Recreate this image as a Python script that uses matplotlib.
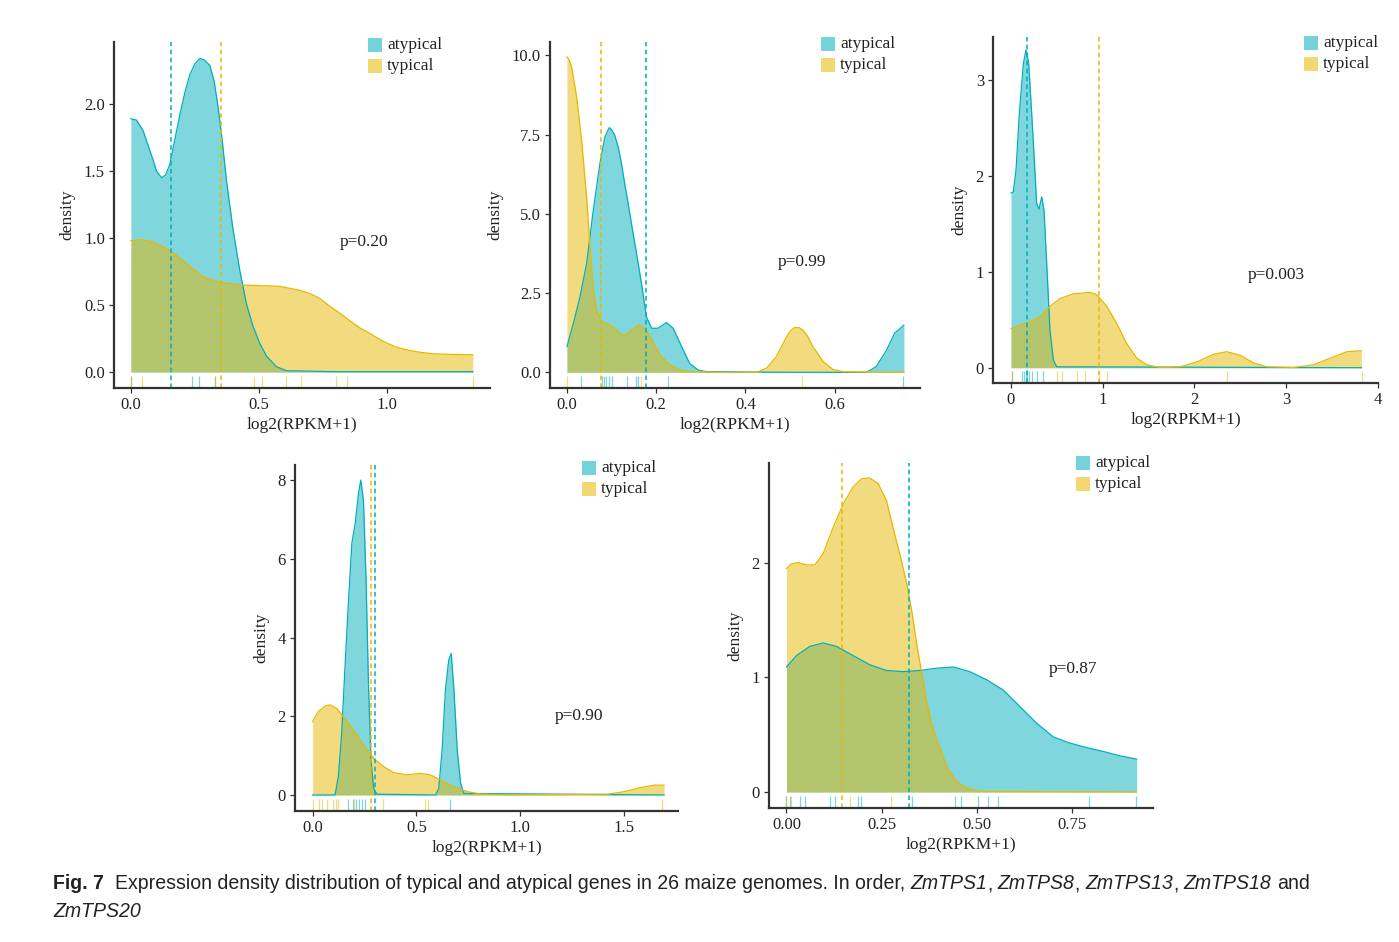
"""
Expression density of typical vs atypical genes (Fig. 7 redraw).
"""

import matplotlib
matplotlib.use("Agg")
import matplotlib.pyplot as plt
from matplotlib.patches import Rectangle

plt.rcParams['font.family'] = ['Liberation Serif', 'DejaVu Serif']

ATYP_COLOR = '#00AFBB'
TYP_COLOR = '#E7B800'
AXIS_COLOR = '#333333'

# ─────────────────────────────────────────────────────────────────────────────
# Data
# ─────────────────────────────────────────────────────────────────────────────

# ZmTPS1
tps1_atyp_x = [0.0, 0.022, 0.048, 0.087, 0.10, 0.12, 0.135, 0.152, 0.17, 0.191,
               0.21, 0.23, 0.25, 0.269, 0.285, 0.308, 0.325, 0.341, 0.357,
               0.373, 0.399, 0.425, 0.451, 0.477, 0.503, 0.529, 0.568,
               0.607, 0.79, 1.335]
tps1_atyp_y = [1.89, 1.88, 1.80, 1.58, 1.50, 1.45, 1.47, 1.55, 1.72, 1.92,
               2.08, 2.22, 2.30, 2.34, 2.33, 2.29, 2.17, 1.97, 1.72,
               1.43, 1.06, 0.76, 0.51, 0.34, 0.215, 0.12, 0.04,
               0.01, 0.003, 0.003]
tps1_typ_x = [0.0, 0.042, 0.087, 0.152, 0.217, 0.282, 0.347, 0.425, 0.50, 0.581,
              0.659, 0.70, 0.737, 0.77, 0.815, 0.85, 0.893, 0.94, 0.984, 1.03,
              1.075, 1.12, 1.179, 1.25, 1.335]
tps1_typ_y = [0.98, 0.99, 0.97, 0.91, 0.81, 0.71, 0.67, 0.65, 0.645, 0.64,
              0.61, 0.585, 0.55, 0.50, 0.44, 0.39, 0.33, 0.28, 0.23, 0.19,
              0.166, 0.15, 0.136, 0.132, 0.129]
tps1_atyp_rug = [0.0, 0.24, 0.265, 0.33]
tps1_typ_rug = [0.0, 0.045, 0.33, 0.48, 0.51, 0.605, 0.665, 0.80, 0.845, 1.336]
tps1_means = [0.156, 0.351]
tps1_p = 'p=0.20'

# ZmTPS8
tps8_atyp_x = [0.0, 0.0142, 0.0291, 0.044, 0.059, 0.0739, 0.0851, 0.0948, 0.10,
               0.107, 0.115, 0.122, 0.13, 0.137, 0.145, 0.152, 0.16, 0.167,
               0.178, 0.190, 0.204, 0.223, 0.238, 0.257, 0.275, 0.294, 0.313,
               0.499, 0.671, 0.693, 0.716, 0.734, 0.755]
tps8_atyp_y = [0.81, 1.54, 2.38, 3.43, 5.12, 6.59, 7.43, 7.72, 7.65,
               7.48, 7.1, 6.59, 5.9, 5.33, 4.65, 4.07, 3.4, 2.80,
               1.75, 1.39, 1.39, 1.57, 1.39, 0.81, 0.28, 0.07, 0.02,
               0.0, 0.0, 0.18, 0.70, 1.23, 1.49]
tps8_typ_x = [0.0, 0.005, 0.0104, 0.0216, 0.0328, 0.044, 0.0515, 0.059, 0.0664,
              0.0776, 0.0963, 0.111, 0.126, 0.141, 0.160, 0.175, 0.190, 0.208,
              0.231, 0.253, 0.275, 0.35, 0.425, 0.447, 0.469, 0.492, 0.50,
              0.510, 0.52, 0.529, 0.54, 0.551, 0.574, 0.596, 0.619, 0.755]
tps8_typ_y = [9.95, 9.85, 9.63, 8.69, 7.32, 5.54, 3.96, 2.59, 1.96,
              1.60, 1.49, 1.33, 1.14, 1.28, 1.49, 1.39, 1.02, 0.55,
              0.23, 0.07, 0.02, 0.0, 0.0, 0.13, 0.49, 1.12, 1.30,
              1.41, 1.41, 1.33, 1.12, 0.81, 0.34, 0.09, 0.02, 0.0]
tps8_atyp_rug = [0.031, 0.078, 0.083, 0.088, 0.094, 0.1, 0.134, 0.154, 0.16,
                 0.226, 0.753]
tps8_typ_rug = [0.0, 0.165, 0.526]
tps8_means = [0.176, 0.076]
tps8_p = 'p=0.99'

# ZmTPS13
tps13_atyp_x = [0.0, 0.025, 0.055, 0.091, 0.135, 0.164, 0.193, 0.236, 0.28, 0.305,
                0.335, 0.36, 0.389, 0.425, 0.462, 0.498, 3.82]
tps13_atyp_y = [1.82, 1.83, 2.06, 2.65, 3.17, 3.31, 3.17, 2.48, 1.71, 1.65,
                1.78, 1.64, 1.09, 0.39, 0.08, 0.01, 0.0]
tps13_typ_x = [0.0, 0.098, 0.207, 0.316, 0.425, 0.535, 0.68, 0.862, 0.935, 1.044,
               1.153, 1.262, 1.371, 1.48, 1.625, 1.844, 2.025, 2.207, 2.353,
               2.498, 2.644, 2.789, 3.08, 3.298, 3.48, 3.662, 3.818]
tps13_typ_y = [0.41, 0.44, 0.48, 0.53, 0.64, 0.72, 0.77, 0.785, 0.76, 0.64,
               0.46, 0.25, 0.10, 0.03, 0.003, 0.01, 0.06, 0.14, 0.167,
               0.13, 0.05, 0.01, 0.003, 0.03, 0.10, 0.167, 0.177]
tps13_atyp_rug = [0.007, 0.117, 0.14, 0.16, 0.18, 0.2, 0.226, 0.28, 0.345]
tps13_typ_rug = [0.007, 0.5, 0.553, 0.723, 0.807, 0.955, 1.05, 2.352, 3.824]
tps13_means = [0.171, 0.964]
tps13_p = 'p=0.003'

# ZmTPS18
tps18_atyp_x = [0.0, 0.108, 0.124, 0.140, 0.156, 0.173, 0.189, 0.205, 0.221, 0.232,
                0.245, 0.258, 0.269, 0.281, 0.294, 0.31, 0.592, 0.608, 0.624,
                0.640, 0.656, 0.668, 0.681, 0.697, 0.713, 0.729, 1.694]
tps18_atyp_y = [0.0, 0.0, 0.47, 1.57, 3.26, 4.95, 6.39, 6.90, 7.66, 8.0,
                7.49, 5.38, 2.84, 0.89, 0.17, 0.02, 0.0, 0.17, 1.14,
                2.67, 3.43, 3.6, 2.67, 1.14, 0.30, 0.04, 0.0]
tps18_typ_x = [0.0, 0.027, 0.06, 0.084, 0.116, 0.148, 0.197, 0.245, 0.294, 0.342,
               0.39, 0.455, 0.519, 0.568, 0.616, 0.681, 0.745, 0.81, 0.939,
               1.423, 1.503, 1.584, 1.648, 1.694]
tps18_typ_y = [1.86, 2.12, 2.26, 2.29, 2.20, 1.99, 1.65, 1.27, 0.93, 0.72,
               0.57, 0.51, 0.55, 0.51, 0.38, 0.21, 0.085, 0.025, 0.0,
               0.02, 0.085, 0.19, 0.25, 0.25]
tps18_atyp_rug = [0.172, 0.196, 0.21, 0.225, 0.238, 0.252, 0.662]
tps18_typ_rug = [0.0, 0.032, 0.043, 0.07, 0.1, 0.112, 0.124, 0.2, 0.34,
                 0.541, 0.557, 1.686]
tps18_means = [0.302, 0.281]
tps18_p = 'p=0.90'

# ZmTPS20
tps20_atyp_x = [0.0, 0.0263, 0.0614, 0.0965, 0.1316, 0.175, 0.219, 0.263, 0.307,
                0.351, 0.395, 0.439, 0.482, 0.526, 0.570, 0.614, 0.658, 0.702,
                0.746, 0.789, 0.833, 0.877, 0.921]
tps20_atyp_y = [1.09, 1.19, 1.27, 1.30, 1.27, 1.19, 1.11, 1.06, 1.05,
                1.06, 1.08, 1.09, 1.05, 0.98, 0.89, 0.745, 0.60, 0.48,
                0.426, 0.388, 0.354, 0.316, 0.287]
tps20_typ_x = [0.0, 0.0132, 0.0307, 0.0526, 0.0746, 0.0965, 0.123, 0.149, 0.175,
               0.197, 0.218, 0.241, 0.263, 0.289, 0.30, 0.316, 0.33, 0.342,
               0.355, 0.368, 0.38, 0.395, 0.41, 0.421, 0.447, 0.474, 0.509,
               0.921]
tps20_typ_y = [1.95, 1.99, 2.0, 1.98, 1.98, 2.08, 2.31, 2.51, 2.66,
               2.73, 2.74, 2.69, 2.54, 2.19, 2.05, 1.82, 1.57, 1.30,
               1.05, 0.80, 0.62, 0.455, 0.33, 0.223, 0.093, 0.035, 0.006,
               0.0]
tps20_atyp_rug = [0.0, 0.008, 0.035, 0.048, 0.114, 0.127, 0.189, 0.197, 0.329,
                  0.443, 0.46, 0.504, 0.529, 0.557, 0.796, 0.918]
tps20_typ_rug = [0.0, 0.013, 0.167, 0.276]
tps20_means = [0.323, 0.147]
tps20_p = 'p=0.87'

group_labels = ['atypical', 'typical']

# ─────────────────────────────────────────────────────────────────────────────
# Layout (pixel boxes in the 1399x942 canvas)
# ─────────────────────────────────────────────────────────────────────────────

W, H = 1399, 942

panels = [
    dict(box=(114, 42, 490, 388), xlim=(-0.066, 1.402), ylim=(-0.119, 2.463),
         xticks=[0, 0.5, 1.0], xtl=['0.0', '0.5', '1.0'],
         yticks=[0, 0.5, 1.0, 1.5, 2.0], ytl=['0.0', '0.5', '1.0', '1.5', '2.0'],
         atyp=(tps1_atyp_x, tps1_atyp_y), typ=(tps1_typ_x, tps1_typ_y),
         rugs=(tps1_atyp_rug, tps1_typ_rug), means=tps1_means,
         p=tps1_p, p_xy=(0.91, 0.97), legend=(368, 45)),
    dict(box=(550, 42, 920, 388), xlim=(-0.038, 0.791), ylim=(-0.495, 10.42),
         xticks=[0, 0.2, 0.4, 0.6], xtl=['0.0', '0.2', '0.4', '0.6'],
         yticks=[0, 2.5, 5.0, 7.5, 10.0], ytl=['0.0', '2.5', '5.0', '7.5', '10.0'],
         atyp=(tps8_atyp_x, tps8_atyp_y), typ=(tps8_typ_x, tps8_typ_y),
         rugs=(tps8_atyp_rug, tps8_typ_rug), means=tps8_means,
         p=tps8_p, p_xy=(0.526, 3.48), legend=(821, 44)),
    dict(box=(993, 37, 1378, 383), xlim=(-0.196, 4.0), ylim=(-0.159, 3.445),
         xticks=[0, 1, 2, 3, 4], xtl=['0', '1', '2', '3', '4'],
         yticks=[0, 1, 2, 3], ytl=['0', '1', '2', '3'],
         atyp=(tps13_atyp_x, tps13_atyp_y), typ=(tps13_typ_x, tps13_typ_y),
         rugs=(tps13_atyp_rug, tps13_typ_rug), means=tps13_means,
         p=tps13_p, p_xy=(2.89, 0.966), legend=(1304, 43)),
    dict(box=(295, 465, 678, 811), xlim=(-0.085, 1.761), ylim=(-0.407, 8.386),
         xticks=[0, 0.5, 1.0, 1.5], xtl=['0.0', '0.5', '1.0', '1.5'],
         yticks=[0, 2, 4, 6, 8], ytl=['0', '2', '4', '6', '8'],
         atyp=(tps18_atyp_x, tps18_atyp_y), typ=(tps18_typ_x, tps18_typ_y),
         rugs=(tps18_atyp_rug, tps18_typ_rug), means=tps18_means,
         p=tps18_p, p_xy=(1.284, 2.0), legend=(582, 468)),
    dict(box=(769, 463, 1153, 808), xlim=(-0.046, 0.964), ylim=(-0.139, 2.869),
         xticks=[0, 0.25, 0.5, 0.75], xtl=['0.00', '0.25', '0.50', '0.75'],
         yticks=[0, 1, 2], ytl=['0', '1', '2'],
         atyp=(tps20_atyp_x, tps20_atyp_y), typ=(tps20_typ_x, tps20_typ_y),
         rugs=(tps20_atyp_rug, tps20_typ_rug), means=tps20_means,
         p=tps20_p, p_xy=(0.753, 1.073), legend=(1076, 463)),
]


def px_rect(box):
    l, t, r, b = box
    return [l / W, 1 - b / H, (r - l) / W, (b - t) / H]


def draw_legend(fig, left, cy):
    size = 14
    for i, (lab, col) in enumerate(zip(group_labels, [ATYP_COLOR, TYP_COLOR])):
        y = cy + i * 21
        fig.patches.append(Rectangle((left / W, 1 - (y + size / 2) / H),
                                     size / W, size / H, transform=fig.transFigure,
                                     facecolor=col, alpha=0.55, edgecolor='none'))
        fig.text((left + size + 5) / W, 1 - y / H, lab, fontsize=12.5,
                 va='center', ha='left', color='#222222')


def draw_panel(fig, cfg):
    ax = fig.add_axes(px_rect(cfg['box']))
    for (xs, ys), col in zip([cfg['atyp'], cfg['typ']], [ATYP_COLOR, TYP_COLOR]):
        ax.fill_between(xs, ys, 0, color=col, alpha=0.5, lw=0)
        ax.plot(xs, ys, color=col, lw=0.9, solid_joinstyle='round')
    for vals, col in zip(cfg['rugs'], [ATYP_COLOR, TYP_COLOR]):
        ax.vlines(vals, 0, 0.035, transform=ax.get_xaxis_transform(),
                  colors=col, alpha=0.5, lw=0.9)
    for m, col in zip(cfg['means'], [ATYP_COLOR, TYP_COLOR]):
        ax.axvline(m, color=col, lw=1.1, ls=(0, (3, 2.2)))

    ax.text(*cfg['p_xy'], cfg['p'], ha='center', va='center', fontsize=12.5,
            color='#222222')

    ax.set_xlim(*cfg['xlim'])
    ax.set_ylim(*cfg['ylim'])
    ax.set_xticks(cfg['xticks'])
    ax.set_xticklabels(cfg['xtl'])
    ax.set_yticks(cfg['yticks'])
    ax.set_yticklabels(cfg['ytl'])
    for s in ['top', 'right']:
        ax.spines[s].set_visible(False)
    for s in ['left', 'bottom']:
        ax.spines[s].set_color(AXIS_COLOR)
        ax.spines[s].set_linewidth(1.6)
    ax.tick_params(length=3.5, width=0.9, color=AXIS_COLOR, labelsize=12,
                   labelcolor='#222222', pad=3)
    ax.set_xlabel('log2(RPKM+1)', fontsize=12.5, color='#222222', labelpad=3)
    ax.set_ylabel('density', fontsize=12.5, color='#222222', labelpad=6)
    ax.patch.set_alpha(0)
    draw_legend(fig, *cfg['legend'])
    return ax


def draw_caption(fig, runs, x_px, y_px, size, family):
    renderer = fig.canvas.get_renderer()
    probe_a = fig.text(0, 0, 'aa', fontsize=size, family=family)
    probe_b = fig.text(0, 0, 'a a', fontsize=size, family=family)
    space = (probe_b.get_window_extent(renderer).width
             - probe_a.get_window_extent(renderer).width)
    probe_a.remove()
    probe_b.remove()
    x = x_px
    for txt, style in runs:
        if txt == ' ':
            x += space
            continue
        t = fig.text(x / W, 1 - y_px / H, txt, fontsize=size, family=family,
                     fontweight='bold' if style == 'b' else 'normal',
                     fontstyle='italic' if style == 'i' else 'normal',
                     va='baseline', ha='left', color='#222222')
        x += t.get_window_extent(renderer).width


fig = plt.figure(figsize=(W / 100, H / 100), dpi=100)
for cfg in panels:
    draw_panel(fig, cfg)

sans = ['Liberation Sans', 'DejaVu Sans']
line1 = [('Fig. 7', 'b'), (' ', ''), (' ', ''),
         ('Expression density distribution of typical and atypical genes in 26 '
          'maize genomes. In order,', 'r'), (' ', ''),
         ('ZmTPS1', 'i'), (',', 'r'), (' ', ''), ('ZmTPS8', 'i'), (',', 'r'),
         (' ', ''), ('ZmTPS13', 'i'), (',', 'r'), (' ', ''), ('ZmTPS18', 'i'),
         (' ', ''), ('and', 'r')]
line2 = [('ZmTPS20', 'i')]
draw_caption(fig, line1, 53, 889, 14.05, sans)
draw_caption(fig, line2, 53, 917, 14.05, sans)

fig.savefig('out.png', dpi=100)
